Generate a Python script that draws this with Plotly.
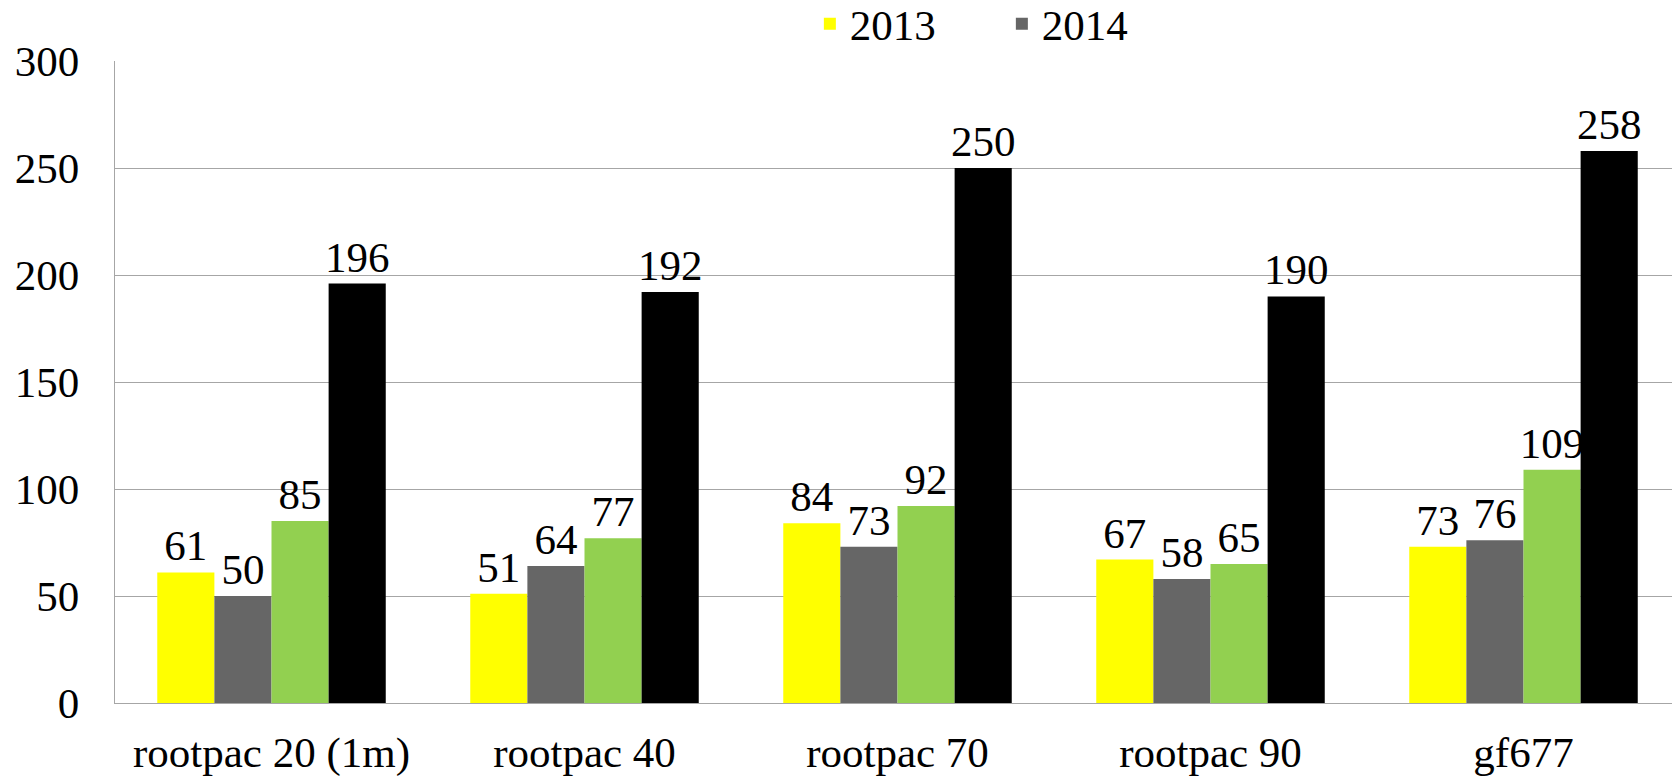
import plotly.graph_objects as go

categories = ["rootpac 20 (1m)", "rootpac 40", "rootpac 70", "rootpac 90", "gf677"]
series_names = ["2013", "2014", "Series 3", "Series 4"]
vals_2013 = [61, 51, 84, 67, 73]
vals_2014 = [50, 64, 73, 58, 76]
vals_s3 = [85, 77, 92, 65, 109]
vals_s4 = [196, 192, 250, 190, 258]

colors = ["#FFFF00", "#666666", "#92D050", "#000000"]
show_in_legend = [True, True, False, False]

FONT = "Liberation Serif"
FS = 43

fig = go.Figure()
for name, vals, col, show in zip(series_names, [vals_2013, vals_2014, vals_s3, vals_s4],
                                 colors, show_in_legend):
    fig.add_trace(go.Bar(
        x=categories, y=vals, name=name, marker_color=col, marker_line_width=0,
        text=vals, textposition="outside", constraintext="none",
        textfont=dict(size=FS, color="black", family=FONT),
        cliponaxis=False, showlegend=show,
    ))

# page body has an 8px margin, so the figure is 8px smaller than the window
fig.update_layout(
    width=1672, height=769,
    margin=dict(l=107, r=0, t=53, b=74, autoexpand=False),
    barmode="group", bargap=0.27, bargroupgap=0,
    plot_bgcolor="white", paper_bgcolor="white",
    font=dict(family=FONT, size=FS, color="black"),
    showlegend=True,
    legend=dict(orientation="h", x=0.444, xanchor="left", y=1.058, yanchor="middle",
                entrywidth=147, entrywidthmode="pixels",
                font=dict(size=FS, family=FONT), bgcolor="rgba(0,0,0,0)"),
)
fig.update_yaxes(range=[0, 300], dtick=50, showgrid=True, gridcolor="#A6A6A6", gridwidth=1.3,
                 showline=True, linecolor="#A6A6A6", linewidth=1.3, zeroline=False,
                 ticks="", ticklabelstandoff=26, tickfont=dict(size=FS, family=FONT),
                 automargin=False)
fig.update_xaxes(showline=True, linecolor="#A6A6A6", linewidth=1.3, ticks="",
                 ticklabelstandoff=11, tickfont=dict(size=FS, family=FONT),
                 automargin=False)

fig.write_html("out.html")
